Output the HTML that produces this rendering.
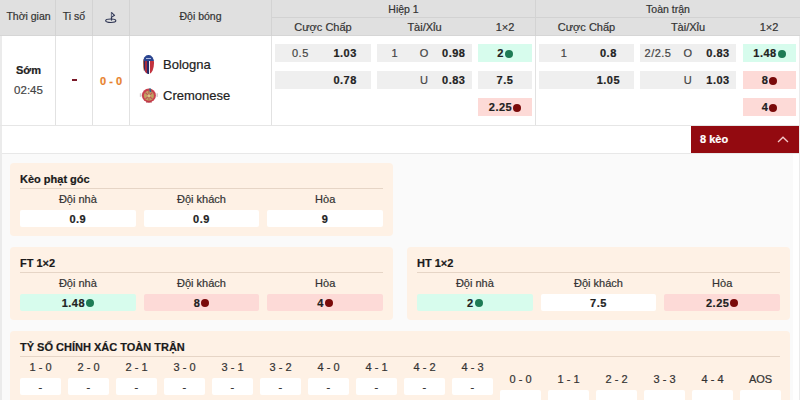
<!DOCTYPE html>
<html><head><meta charset="utf-8">
<style>
*{box-sizing:border-box;margin:0;padding:0}
html,body{width:800px;height:400px;overflow:hidden;background:#fff}
body{position:relative;font-family:"Liberation Sans",sans-serif;color:#222;-webkit-text-stroke:0.2px currentColor}
.a{position:absolute}
.hd{left:0;top:0;width:800px;height:36px;background:#e0e0e0;border-bottom:1px solid #d6d6d6}
.vl{position:absolute;width:1px;background:#e2e2e2}
.ht{position:absolute;font-size:10.5px;color:#333;text-align:center;white-space:nowrap}
.box{position:absolute;height:17.5px;background:#efefef;display:flex;align-items:center;font-size:11px;color:#222;letter-spacing:0.5px;padding:0 3px}
.box>span{flex:1;text-align:center;white-space:nowrap}
.b{font-weight:bold}
.l{color:#444}
.g{background:#d7fced}
.r{background:#fddad7}
.dg,.dr{display:inline-block;width:8px;height:8px;border-radius:50%;vertical-align:-1px;margin-left:1px}
.dg{background:#1e7b55}
.dr{background:#7a0a0a}

.pn{position:absolute;background:#fef1e5;border-radius:4px;padding:0 10px;height:73px}
.pt{font-size:11px;font-weight:bold;color:#1a1a1a;line-height:13px;padding-top:10px;padding-bottom:2px;border-bottom:1px solid #e6d5c6;white-space:nowrap}
.cols{display:flex;gap:8px}
.cols>div{flex:1}
.lb{font-size:11px;color:#333;text-align:center;line-height:13px;margin-top:4px;white-space:nowrap}
.vb{height:17px;margin-top:4px;background:#fff;text-align:center;font-size:11px;font-weight:bold;line-height:18.5px;color:#222;border-radius:2px;letter-spacing:0.5px}
.vb .dg,.vb .dr{vertical-align:0}
.vb.g{background:#d7fced}.vb.r{background:#fddad7}
.sc{display:flex;gap:7px}
.grp{display:flex;gap:7px}
.si{width:41px}
.vb.n{font-weight:normal;color:#333}
</style></head><body>
<!-- header -->
<div class="a hd"></div>
<div class="a" style="left:271px;top:17px;width:529px;height:1px;background:#d2d2d2"></div>
<div class="vl" style="left:55px;top:0;height:36px;background:#d3d3d3"></div>
<div class="vl" style="left:55px;top:36px;height:89px"></div>
<div class="vl" style="left:92px;top:0;height:36px;background:#d3d3d3"></div>
<div class="vl" style="left:92px;top:36px;height:89px"></div>
<div class="vl" style="left:129px;top:0;height:36px;background:#d3d3d3"></div>
<div class="vl" style="left:129px;top:36px;height:89px"></div>
<div class="vl" style="left:271px;top:0;height:36px;background:#d3d3d3"></div>
<div class="vl" style="left:271px;top:36px;height:89px"></div>
<div class="vl" style="left:535px;top:0;height:36px;background:#d3d3d3"></div>
<div class="vl" style="left:535px;top:36px;height:89px"></div>

<div class="a" style="left:0;top:36px;width:2px;height:364px;background:#ebebeb"></div>
<div class="a" style="left:799px;top:36px;width:1px;height:364px;background:#ebebeb"></div>

<div class="ht" style="left:2px;width:53px;top:10px">Thời gian</div>
<div class="ht" style="left:56px;width:36px;top:10px">Ti số</div>
<div class="ht" style="left:130px;width:141px;top:10px">Đội bóng</div>
<div class="ht" style="left:272px;width:263px;top:3px">Hiệp 1</div>
<div class="ht" style="left:536px;width:264px;top:3px">Toàn trận</div>
<div class="ht" style="left:272px;width:102px;top:20.5px;font-size:11px">Cược Chấp</div>
<div class="ht" style="left:374px;width:101px;top:20.5px;font-size:11px">Tài/Xỉu</div>
<div class="ht" style="left:475px;width:60px;top:20.5px;font-size:11px">1×2</div>
<div class="ht" style="left:536px;width:101px;top:20.5px;font-size:11px">Cược Chấp</div>
<div class="ht" style="left:637px;width:102px;top:20.5px;font-size:11px">Tài/Xỉu</div>
<div class="ht" style="left:739px;width:60px;top:20.5px;font-size:11px">1×2</div>
<!-- corner icon -->
<svg class="a" style="left:104px;top:11px" width="14" height="13" viewBox="0 0 14 13">
<ellipse cx="6.75" cy="9.75" rx="5.1" ry="1.7" fill="none" stroke="#2e3553" stroke-width="1.1"/>
<path d="M7.5 9.6V1.2" stroke="#2e3553" stroke-width="1.2" fill="none"/>
<path d="M7.6 1.6 L10.6 4.3 L7.6 6.1" fill="#d8d9e2" stroke="#2e3553" stroke-width="1.1" stroke-linejoin="round"/>
</svg>

<!-- body left -->
<div class="a" style="left:2px;width:53px;top:64px;text-align:center;font-size:11px;font-weight:bold;color:#222">Sớm</div>
<div class="a" style="left:2px;width:53px;top:84.3px;text-align:center;font-size:11.5px;color:#444">02:45</div>
<div class="a" style="left:72px;top:79px;width:5px;height:2px;background:#7a1a2a"></div>
<div class="a" style="left:93px;width:36px;top:75px;text-align:center;font-size:11px;font-weight:bold;color:#e8822e">0 - 0</div>

<!-- team logos -->
<div class="a" style="left:143.4px;top:55.3px;width:10.2px;height:18.4px;border-radius:50% 50% 50% 50% / 40% 40% 60% 60%;overflow:hidden;background:linear-gradient(#2a4590 0 6.3px,transparent 6.3px),linear-gradient(to right,#252a66 0 2.3px,#a82a3e 2.3px 4.1px,#252a66 4.1px 5.6px,#f0eef2 5.6px 7.3px,#c2323e 7.3px)"><div style="position:absolute;left:2.4px;top:2.7px;width:5.4px;height:1.2px;background:#aebbe0"></div></div>
<div class="a" style="left:143px;top:59px;width:2px;height:12px;border-left:0.8px solid rgba(232,132,60,0.7);border-radius:50% 0 0 50%"></div>
<svg class="a" style="left:139px;top:86px" width="20" height="19" viewBox="0 0 20 19">
<rect x="0.8" y="7.3" width="1.6" height="3.6" fill="#d8d0d2"/>
<rect x="17.4" y="7.3" width="1.6" height="3.6" fill="#d8d0d2"/>
<circle cx="9.9" cy="9.4" r="7" fill="#c9404e"/>
<circle cx="9.9" cy="9.7" r="5" fill="#c2a060"/>
<path d="M6.4 6.6 L13.4 13.2 M13.3 6.6 L6.4 13.2" stroke="#c0505a" stroke-width="1.1"/>
<path d="M9.9 5 V14.5" stroke="#b8484e" stroke-width="0.8"/>
<circle cx="9.9" cy="9.7" r="1.5" fill="#dcc88a"/>
<path d="M10.9 2.3 L11.6 6.2" stroke="#2f6a8a" stroke-width="1.5"/>
<path d="M7 16 L12.8 16" stroke="#b03040" stroke-width="1"/>
</svg>
<div class="a" style="left:163px;top:57px;font-size:13px;color:#222">Bologna</div>
<div class="a" style="left:163px;top:87.6px;font-size:13px;color:#222">Cremonese</div>

<!-- Hiep 1 odds -->
<div class="box" style="left:275px;top:44px;width:95.5px"><span class="l">0.5</span><span class="b">1.03</span></div>
<div class="box" style="left:275px;top:71px;width:95.5px"><span></span><span class="b">0.78</span></div>
<div class="box" style="left:377px;top:44px;width:94.5px"><span class="l">1</span><span class="l">O</span><span class="b">0.98</span></div>
<div class="box" style="left:377px;top:71px;width:94.5px"><span></span><span class="l">U</span><span class="b">0.83</span></div>
<div class="box g" style="left:478px;top:44px;width:54px"><span class="b">2<i class="dg"></i></span></div>
<div class="box" style="left:478px;top:71px;width:54px"><span class="b">7.5</span></div>
<div class="box r" style="left:478px;top:98px;width:54px"><span class="b">2.25<i class="dr"></i></span></div>

<!-- Toan tran odds -->
<div class="box" style="left:539px;top:44px;width:94.5px"><span class="l">1</span><span class="b">0.8</span></div>
<div class="box" style="left:539px;top:71px;width:94.5px"><span></span><span class="b">1.05</span></div>
<div class="box" style="left:640px;top:44px;width:96px"><span class="l">2/2.5</span><span class="l">O</span><span class="b">0.83</span></div>
<div class="box" style="left:640px;top:71px;width:96px"><span></span><span class="l">U</span><span class="b">1.03</span></div>
<div class="box g" style="left:743px;top:44px;width:53px"><span class="b">1.48<i class="dg"></i></span></div>
<div class="box r" style="left:743px;top:71px;width:53px"><span class="b">8<i class="dr"></i></span></div>
<div class="box r" style="left:743px;top:98px;width:53px"><span class="b">4<i class="dr"></i></span></div>

<!-- row bottom border -->
<div class="a" style="left:0;top:125px;width:800px;height:1px;background:#e6e6e6"></div>

<!-- button -->
<div class="a" style="left:691px;top:126px;width:108px;height:27px;background:#930a10"></div>
<div class="a" style="left:700px;top:133px;font-size:11px;font-weight:bold;color:#fff">8 kèo</div>
<svg class="a" style="left:777px;top:136px" width="12" height="7" viewBox="0 0 12 7"><path d="M1 6 L6 1.2 L11 6" fill="none" stroke="#f3c9c9" stroke-width="1.3"/></svg>

<!-- expanded area -->
<div class="a" style="left:2px;top:153px;width:797px;height:247px;background:#fff;border-top:1px solid #e8e8e8"></div>
<div class="a" style="left:2px;top:154px;width:791px;height:246px;background:#fafafa"></div>


<!-- panels -->
<div class="pn" style="left:10px;top:163px;width:383px">
 <div class="pt">Kèo phạt góc</div>
 <div class="cols"><div><div class="lb">Đội nhà</div><div class="vb">0.9</div></div><div><div class="lb">Đội khách</div><div class="vb">0.9</div></div><div><div class="lb">Hòa</div><div class="vb">9</div></div></div>
</div>
<div class="pn" style="left:10px;top:247px;width:383px">
 <div class="pt">FT 1×2</div>
 <div class="cols"><div><div class="lb">Đội nhà</div><div class="vb g">1.48<i class="dg"></i></div></div><div><div class="lb">Đội khách</div><div class="vb r">8<i class="dr"></i></div></div><div><div class="lb">Hòa</div><div class="vb r">4<i class="dr"></i></div></div></div>
</div>
<div class="pn" style="left:407px;top:247px;width:383px">
 <div class="pt">HT 1×2</div>
 <div class="cols"><div><div class="lb">Đội nhà</div><div class="vb g">2<i class="dg"></i></div></div><div><div class="lb">Đội khách</div><div class="vb">7.5</div></div><div><div class="lb">Hòa</div><div class="vb r">2.25<i class="dr"></i></div></div></div>
</div>
<div class="pn" style="left:10px;top:331px;width:780px;height:80px">
 <div class="pt">TỶ SỐ CHÍNH XÁC TOÀN TRẬN</div>
 <div class="sc">
  <div class="grp"><div class="si"><div class="lb">1 - 0</div><div class="vb n">-</div></div><div class="si"><div class="lb">2 - 0</div><div class="vb n">-</div></div><div class="si"><div class="lb">2 - 1</div><div class="vb n">-</div></div><div class="si"><div class="lb">3 - 0</div><div class="vb n">-</div></div><div class="si"><div class="lb">3 - 1</div><div class="vb n">-</div></div><div class="si"><div class="lb">3 - 2</div><div class="vb n">-</div></div><div class="si"><div class="lb">4 - 0</div><div class="vb n">-</div></div><div class="si"><div class="lb">4 - 1</div><div class="vb n">-</div></div><div class="si"><div class="lb">4 - 2</div><div class="vb n">-</div></div><div class="si"><div class="lb">4 - 3</div><div class="vb n">-</div></div></div>
  <div class="grp" style="margin-top:12px"><div class="si"><div class="lb">0 - 0</div><div class="vb n">-</div></div><div class="si"><div class="lb">1 - 1</div><div class="vb n">-</div></div><div class="si"><div class="lb">2 - 2</div><div class="vb n">-</div></div><div class="si"><div class="lb">3 - 3</div><div class="vb n">-</div></div><div class="si"><div class="lb">4 - 4</div><div class="vb n">-</div></div><div class="si"><div class="lb">AOS</div><div class="vb n">-</div></div></div>
 </div>
</div>
</body></html>
